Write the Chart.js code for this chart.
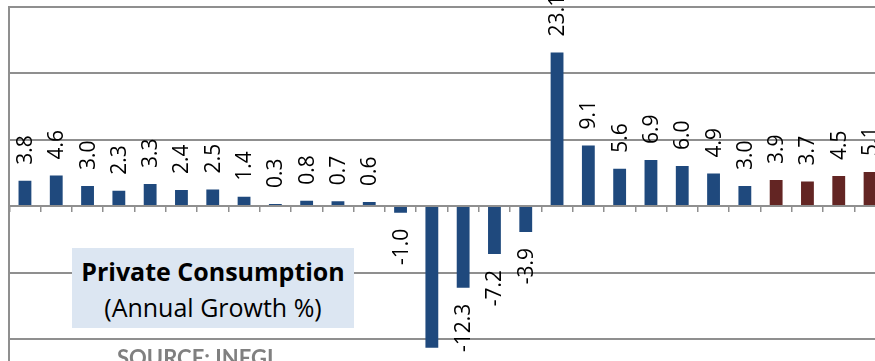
<!DOCTYPE html>
<html>
<head>
<meta charset="utf-8">
<script src="https://cdn.jsdelivr.net/npm/chart.js@4"></script>
<style>
  html, body { margin: 0; padding: 0; background: #fff; overflow: hidden; }
  #wrap { position: relative; width: 875px; height: 361px; overflow: hidden; background: #fff; }
  #chart { position: absolute; left: 0; top: 0; }
  #title {
    position: absolute; left: 72px; top: 248px; width: 282px; height: 80px;
    background: #dce6f2; font-family: "Open Sans", Lato, sans-serif; font-size: 25px;
    line-height: 36px; text-align: center; color: #000; box-sizing: border-box; padding-top: 5px;
    white-space: nowrap;
  }
  #title b { font-weight: 700; }
  #source {
    position: absolute; left: 117px; top: 347px; font-family: Lato, "Open Sans", sans-serif;
    font-weight: 700; font-size: 22px; line-height: 22px; color: #808080; white-space: nowrap;
  }
</style>
</head>
<body>
<div id="wrap">
  <canvas id="chart" width="900" height="430"></canvas>
  <div id="title"><b>Private Consumption</b><br>(Annual Growth %)</div>
  <div id="source">SOURCE: INEGI</div>
</div>
<script>
// Quarterly periods shown on the category axis
const quarters = [
  '2017 Q1','2017 Q2','2017 Q3','2017 Q4',
  '2018 Q1','2018 Q2','2018 Q3','2018 Q4',
  '2019 Q1','2019 Q2','2019 Q3','2019 Q4',
  '2020 Q1','2020 Q2','2020 Q3','2020 Q4',
  '2021 Q1','2021 Q2','2021 Q3','2021 Q4',
  '2022 Q1','2022 Q2','2022 Q3','2022 Q4',
  '2023 Q1','2023 Q2','2023 Q3','2023 Q4'
];

// Annual growth of private consumption, %
const earlierGrowth = [
  3.8, 4.6, 3.0, 2.3, 3.3, 2.4, 2.5, 1.4, 0.3, 0.8, 0.7, 0.6,
  -1.0, -21.3, -12.3, -7.2, -3.9, 23.1, 9.1, 5.6, 6.9, 6.0, 4.9, 3.0,
  null, null, null, null
];
const latestGrowth = [
  null, null, null, null, null, null, null, null, null, null, null, null,
  null, null, null, null, null, null, null, null, null, null, null, null,
  3.9, 3.7, 4.5, 5.1
];

// Y axis range and grid step
const yMin = -30;
const yMax = 30;
const yStep = 10;

const GRID = '#8f8f8f';
const LABEL_FONT = '21px "Open Sans"';

// Rotated value labels above positive bars and below negative ones
const valueLabels = {
  id: 'valueLabels',
  afterDatasetsDraw(chart) {
    const ctx = chart.ctx;
    ctx.save();
    ctx.font = LABEL_FONT;
    ctx.fillStyle = '#000';
    ctx.textBaseline = 'middle';
    chart.data.datasets.forEach((ds, di) => {
      const meta = chart.getDatasetMeta(di);
      meta.data.forEach((bar, i) => {
        const v = ds.data[i];
        if (v === null || v === undefined) return;
        const text = v.toFixed(1);
        ctx.save();
        if (v >= 0) {
          ctx.translate(bar.x + 1, bar.y - 16);
          ctx.rotate(-Math.PI / 2);
          ctx.textAlign = 'left';
        } else {
          ctx.translate(bar.x + 1, bar.y + 16);
          ctx.rotate(-Math.PI / 2);
          ctx.textAlign = 'right';
        }
        ctx.fillText(text, 0, 0);
        ctx.restore();
      });
    });
    ctx.restore();
  }
};

function draw() {
  new Chart(document.getElementById('chart'), {
    type: 'bar',
    data: {
      labels: quarters,
      datasets: [
        {
          label: 'Private consumption',
          data: earlierGrowth,
          backgroundColor: '#1f497d',
          barPercentage: 0.41,
          categoryPercentage: 1
        },
        {
          label: 'Private consumption (2023)',
          data: latestGrowth,
          backgroundColor: '#632523',
          barPercentage: 0.41,
          categoryPercentage: 1
        }
      ]
    },
    options: {
      responsive: false,
      animation: false,
      events: [],
      layout: { padding: { left: 9.3, top: 6.5, right: 14.3, bottom: 24.5 } },
      plugins: { legend: { display: false }, tooltip: { enabled: false } },
      scales: {
        x: {
          stacked: true,
          position: { y: 0 },
          ticks: { display: false },
          grid: { offset: true, drawOnChartArea: false, drawTicks: true, tickLength: 5, color: GRID, lineWidth: 1.5 },
          border: { display: true, color: GRID, width: 2 },
          afterFit(s) { s.height = 0; }
        },
        y: {
          stacked: true,
          min: yMin,
          max: yMax,
          ticks: { display: false, stepSize: yStep },
          grid: { color: GRID, lineWidth: 2, drawTicks: false },
          border: { display: true, color: GRID, width: 2 },
          afterFit(s) { s.width = 0; }
        }
      }
    },
    plugins: [valueLabels]
  });
}

if (document.fonts && document.fonts.load) {
  Promise.all([
    document.fonts.load(LABEL_FONT),
    document.fonts.load('bold 25px "Open Sans"')
  ]).then(draw, draw);
} else {
  draw();
}
</script>
</body>
</html>
